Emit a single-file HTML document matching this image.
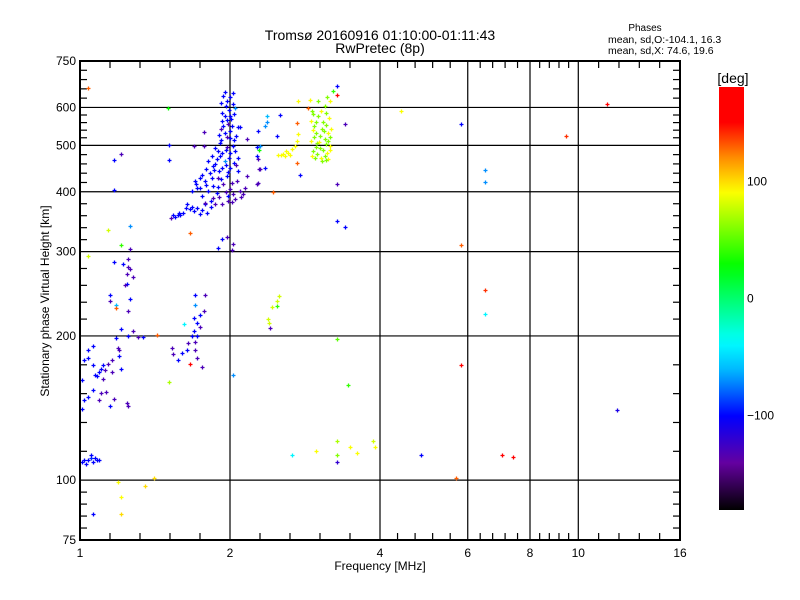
<!DOCTYPE html>
<html><head><meta charset="utf-8"><style>
html,body{margin:0;padding:0;background:#fff;}
svg{display:block;font-family:"Liberation Sans",sans-serif;}
text{fill:#000;}
</style></head><body>
<svg id="chart" width="800" height="600" viewBox="0 0 800 600">
<text x="380" y="40" font-size="14" text-anchor="middle">Tromsø 20160916 01:10:00-01:11:43</text>
<text x="380" y="53" font-size="14" text-anchor="middle">RwPretec (8p)</text>
<text x="645" y="31" font-size="10" text-anchor="middle">Phases</text>
<text x="608" y="43" font-size="10.5">mean, sd,O:-104.1, 16.3</text>
<text x="608" y="54" font-size="10.5">mean, sd,X:  74.6, 19.6</text>
<g id="grid"></g>
<g id="ticks"></g>
<g id="marks"></g>
<rect x="80" y="61" width="600" height="479" fill="none" stroke="#000" stroke-width="2"/>
<g id="xlabels"></g>
<g id="ylabels"></g>
<text x="380" y="570" font-size="12" text-anchor="middle">Frequency [MHz]</text>
<text transform="translate(49,301) rotate(-90)" font-size="12" text-anchor="middle">Stationary phase Virtual Height [km]</text>
<defs><linearGradient id="cbgrad" x1="0" y1="0" x2="0" y2="1"></linearGradient></defs>
<text x="733" y="83" font-size="14" text-anchor="middle">[deg]</text>
<rect x="719" y="87" width="25" height="423" fill="url(#cbgrad)"/>
<g id="cblabels"></g>
</svg>
<script>
const xTickValues=[1,2,4,6,8,10,16];
const xGridValues=[2,4,6,8,10];
const yTickValues=[75,100,200,300,400,500,600,750];
const yGridValues=[100,200,300,400,500,600];
const cbTickValues=[100,0,-100];
const mainCluster=[[1.94,634,-100],[2.03,644,-100],[1.97,619,-100],[2.05,597,-70],[2.0,576,-100],[1.93,562,-100],[1.98,555,-130],[2.09,545,-100],[1.95,530,-100],[2.0,518,-100],[1.91,506,-100],[1.97,496,-130],[2.03,499,-100],[1.93,482,-100],[2.0,482,-100],[1.88,468,-100],[1.95,464,-70],[2.08,471,-100],[1.85,453,-100],[1.93,449,-100],[2.0,449,-100],[1.82,437,-100],[1.89,428,-130],[1.97,432,-100],[2.07,422,-130],[1.78,422,-100],[1.85,412,-100],[1.94,415,-130],[1.74,408,-100],[1.81,402,-100],[1.88,398,-100],[2.0,406,-130],[2.09,402,-130],[1.76,392,-100],[1.85,389,-130],[2.05,387,-130],[2.12,396,-130],[1.93,377,-130],[1.78,377,-100],[1.72,408,-100],[1.70,422,-100],[1.74,428,-100],[2.14,408,-130],[1.66,369,-100],[1.61,361,-100],[1.57,357,-100],[1.52,353,-130],[1.74,359,-100],[1.80,361,-100],[1.72,370,-100],[1.64,377,-100],[1.78,379,-130],[1.55,355,-100],[1.59,358,-100],[1.69,365,-100],[1.96,604,-100],[2.01,568,-100],[1.92,542,-130],[2.06,523,-100],[1.87,494,-100],[2.04,459,-100],[1.9,442,-100],[1.81,464,-100],[1.98,392,-100],[2.08,442,-100],[1.95,576,-100],[2.0,536,-100],
[1.95,645,-100],[2.0,630,-100],[1.92,612,-100],[2.03,610,-100],[1.99,592,-100],[1.93,585,-100],[2.04,582,-100],[1.97,565,-100],[2.02,550,-100],[1.94,548,-100],[1.9,525,-100],[1.97,520,-130],[2.04,512,-100],[1.92,512,-100],[1.89,486,-100],[1.96,488,-100],[2.05,486,-100],[1.84,474,-100],[1.91,474,-100],[1.99,470,-100],[1.87,458,-100],[1.96,456,-100],[2.06,455,-130],[1.79,446,-100],[1.86,444,-100],[1.98,440,-100],[1.76,434,-100],[1.84,428,-100],[1.92,425,-100],[2.02,418,-130],[1.71,416,-100],[1.79,414,-100],[1.89,410,-100],[1.96,400,-130],[1.68,402,-100],[2.03,395,-130],[1.9,390,-130],[1.83,382,-100],[1.98,383,-130],[2.1,390,-130],[1.63,370,-100],[1.68,372,-100],[1.58,362,-100],[1.54,358,-100],[1.76,366,-100],[1.83,372,-100],[1.87,377,-130],[2.02,380,-130]];
const nearMain=[[1.77,533,-130],[1.69,499,-130],[1.77,499,-130],[1.5,597,30],[1.51,501,-100],[1.51,466,-100],[2.16,515,-130],[2.28,468,-130],[2.37,576,-60],[2.37,559,-70],[2.35,549,-70],[2.3,499,-70],[2.27,476,-100],[2.3,446,-130],[2.27,415,-130],[2.16,432,-130],[2.52,578,-100],[2.48,523,-100],[2.08,545,-100],[2.28,536,-100],[2.27,496,-100],[2.29,489,30],[2.35,449,-100],[2.29,446,-130],[2.28,418,-130],[2.76,434,-100],[2.44,400,130],[1.93,319,-100],[1.89,305,-100],[2.03,311,-130],[1.97,322,-130],[1.66,328,130],[2.02,303,-130]];
const xModeCluster=[[2.5,478,90],[2.56,480,90],[2.61,483,90],[2.66,492,90],[2.7,499,90],[2.73,511,90],[2.74,528,90],[2.73,557,130],[2.73,460,130],[2.9,622,90],[2.74,619,90],[2.87,599,130],[2.53,478,90],[2.59,487,90],[2.92,590,60],[3.0,576,60],[3.1,604,60],[3.16,570,90],[2.95,549,60],[3.06,542,60],[3.15,530,90],[2.91,511,90],[2.99,506,60],[3.1,515,60],[3.17,499,90],[2.93,487,60],[3.03,494,60],[3.13,482,90],[2.96,471,60],[3.06,464,60],[3.15,468,90],[2.97,530,60],[3.08,559,60],[3.01,619,60],[3.17,619,90],[3.13,631,60],[2.91,562,90],[3.19,542,90],[3.03,523,60],[2.92,476,90],[3.11,504,60],
[2.94,580,60],[3.04,590,90],[3.12,585,60],[2.98,560,60],[3.12,552,60],[2.94,538,90],[3.09,535,60],[3.18,520,60],[2.95,520,60],[3.02,508,90],[3.14,510,60],[2.97,496,60],[3.08,490,60],[3.18,488,90],[2.99,480,60],[3.1,476,60],[3.04,470,90],[3.11,466,60],[2.64,478,90],[2.58,476,90],
[2.43,230,80],[2.49,237,80],[2.51,242,80],[2.49,231,40],[2.38,217,80],[2.4,213,80],[2.41,208,-130]];
const lowerLeft=[[1.04,294,80],[1.17,286,-100],[1.22,282,-100],[1.25,290,-130],[1.25,278,-130],[1.26,276,-130],[1.24,270,-130],[1.28,265,-130],[1.24,257,-100],[1.23,255,-130],[1.15,244,-100],[1.26,239,-100],[1.15,237,-130],[1.18,232,-60],[1.18,229,130],[1.25,226,-130],[1.21,207,-100],[1.28,205,-130],[1.25,200,-100],[1.31,199,-130],[1.34,199,-100],[1.43,201,130],[1.18,198,-100],[1.19,189,-130],[1.2,187,-130],[1.2,182,-100],[1.16,178,-130],[1.14,175,-130],[1.11,174,-100],[1.1,171,-100],[1.09,168,-100],[1.07,166,-100],[1.06,191,-100],[1.04,187,-100],[1.04,180,-100],[1.02,178,-100],[1.06,174,-100],[1.11,163,-130],[1.21,171,-100],[1.16,168,-130],[1.01,162,-100],[1.06,154,-100],[1.04,149,-100],[1.02,147,-100],[1.1,152,-130],[1.09,147,-130],[1.13,153,-130],[1.17,148,-130],[1.15,143,-100],[1.24,145,-130],[1.25,143,-130],[1.01,141,-100],[1.08,165,-100],[1.12,170,-130],[1.7,243,-100],[1.78,243,-130],[1.7,232,-70],[1.74,221,-100],[1.69,218,-100],[1.72,213,-100],[1.62,212,-40],[1.69,205,-100],[1.72,200,-100],[1.68,200,-100],[1.7,194,-130],[1.65,193,-130],[1.7,187,-130],[1.64,187,-100],[1.54,183,-130],[1.53,189,-130],[1.6,184,-100],[1.57,178,-100],[1.66,175,170],[1.72,180,-130],[1.76,172,-130],[1.51,160,70],[1.74,209,-130],[1.77,226,-130],[1.04,660,130],[1.17,467,-100],[1.21,479,-130],[1.17,404,-100],[1.14,333,80],[1.26,340,-70],[1.21,310,40],[1.26,304,-130]];
const lowCluster=[[1.01,109,-100],[1.02,110,-100],[1.04,110,-100],[1.05,111,-90],[1.06,109,-100],[1.07,111,-100],[1.08,110,-100],[1.09,110,-100],[1.05,113,-100],[1.03,108,-100]];
const scattered=[[3.28,664,-100],[3.28,638,150],[3.22,650,40],[3.4,555,-130],[3.28,415,-130],[3.28,348,-100],[3.4,338,-100],[4.4,590,90],[5.82,555,-100],[6.5,444,-70],[6.5,420,-70],[5.82,310,130],[1.19,99,90],[1.21,92,90],[1.21,85,100],[1.35,97,100],[1.41,101,100],[1.06,85,-100],[2.03,166,-70],[3.28,197,50],[3.28,121,70],[3.28,113,60],[3.28,109,-120],[3.45,158,40],[3.48,117,90],[3.6,114,90],[3.87,121,80],[3.9,117,90],[2.66,113,-40],[2.97,115,90],[4.83,113,-100],[5.69,101,130],[5.82,174,150],[7.03,113,170],[7.39,112,170],[6.5,249,140],[6.5,222,-40],[9.45,523,140],[11.4,610,170],[11.95,140,-110]];

const NS='http://www.w3.org/2000/svg';
const X0=80,XW=600,Y0=61,YH=479;
function xScale(f){return X0+XW*Math.log2(f)/4;}
function yScale(h){return Y0+YH*(Math.log(750)-Math.log(h))/(Math.log(750)-Math.log(75));}
function cbScale(p){return 298.5-p*(423/361);}
const cstops=[[-180,[0,0,0]],[-140,[100,0,160]],[-100,[0,0,255]],[-62,[0,180,255]],[-37,[0,255,255]],[28,[0,255,0]],[91,[255,255,0]],[120,[255,140,0]],[150,[255,0,0]],[180,[255,0,0]]];
function phaseColor(p){
  p=Math.max(-180,Math.min(180,p));
  for(let i=0;i<cstops.length-1;i++){
    const a=cstops[i],b=cstops[i+1];
    if(p<=b[0]){const t=(p-a[0])/(b[0]-a[0]);
      const c=a[1].map((v,k)=>Math.round(v+(b[1][k]-v)*t));
      return 'rgb('+c.join(',')+')';}
  }
  return 'rgb(255,0,0)';
}
function mk(tag,attrs,parent){const e=document.createElementNS(NS,tag);for(const k in attrs)e.setAttribute(k,attrs[k]);parent.appendChild(e);return e;}
const grid=document.getElementById('grid');
xGridValues.forEach(v=>{const l=mk('line',{x1:xScale(v),x2:xScale(v),y1:Y0,y2:Y0+YH,stroke:'#000','stroke-width':1.2},grid);

});
yGridValues.forEach(v=>{const l=mk('line',{x1:X0,x2:X0+XW,y1:yScale(v),y2:yScale(v),stroke:'#000','stroke-width':1.2},grid);

});
const ticks=document.getElementById('ticks');
for(let i=0;i<xTickValues.length-1;i++){
  const a=xScale(xTickValues[i]),b=xScale(xTickValues[i+1]);
  for(let k=1;k<5;k++){const x=a+(b-a)*k/5;
    const t1=mk('line',{x1:x,x2:x,y1:Y0,y2:Y0+7,stroke:'#000','stroke-width':1.2},ticks);
    
    
    const t2=mk('line',{x1:x,x2:x,y1:Y0+YH-7,y2:Y0+YH,stroke:'#000','stroke-width':1.2},ticks);
    
    }
}
for(let i=0;i<yTickValues.length-1;i++){
  const a=yScale(yTickValues[i]),b=yScale(yTickValues[i+1]);
  for(let k=1;k<5;k++){const y=a+(b-a)*k/5;
    const t1=mk('line',{x1:X0,x2:X0+7,y1:y,y2:y,stroke:'#000','stroke-width':1.2},ticks);
    
    
    const t2=mk('line',{x1:X0+XW-7,x2:X0+XW,y1:y,y2:y,stroke:'#000','stroke-width':1.2},ticks);
    
    }
}
const xl=document.getElementById('xlabels');
xTickValues.forEach(v=>{const t=mk('text',{x:xScale(v),y:557,'font-size':12,'text-anchor':'middle'},xl);t.textContent=v;

});
const yl=document.getElementById('ylabels');
yTickValues.forEach(v=>{const t=mk('text',{x:76,y:yScale(v)+4,'font-size':12,'text-anchor':'end'},yl);t.textContent=v;

});
const marks=document.getElementById('marks');
[mainCluster,nearMain,xModeCluster,lowerLeft,lowCluster,scattered].forEach(set=>{
  set.forEach(d=>{const x=Math.round(xScale(d[0]))+0.5,y=Math.round(yScale(d[1]))+0.5;
    const p=mk('path',{d:'M'+(x-2)+' '+y+'h4M'+x+' '+(y-2)+'v4',stroke:phaseColor(d[2]),'stroke-width':1.3,fill:'none'},marks);
    
    });
});
const grad=document.getElementById('cbgrad');
for(let i=0;i<=36;i++){const p=180-i*10;mk('stop',{offset:(i/36),'stop-color':phaseColor(p)},grad);}
const cbl=document.getElementById('cblabels');
cbTickValues.forEach(v=>{const t=mk('text',{x:747,y:cbScale(v)+4,'font-size':12},cbl);t.textContent=(v<0?'\u2212'+(-v):v);

});
</script>
</body></html>
